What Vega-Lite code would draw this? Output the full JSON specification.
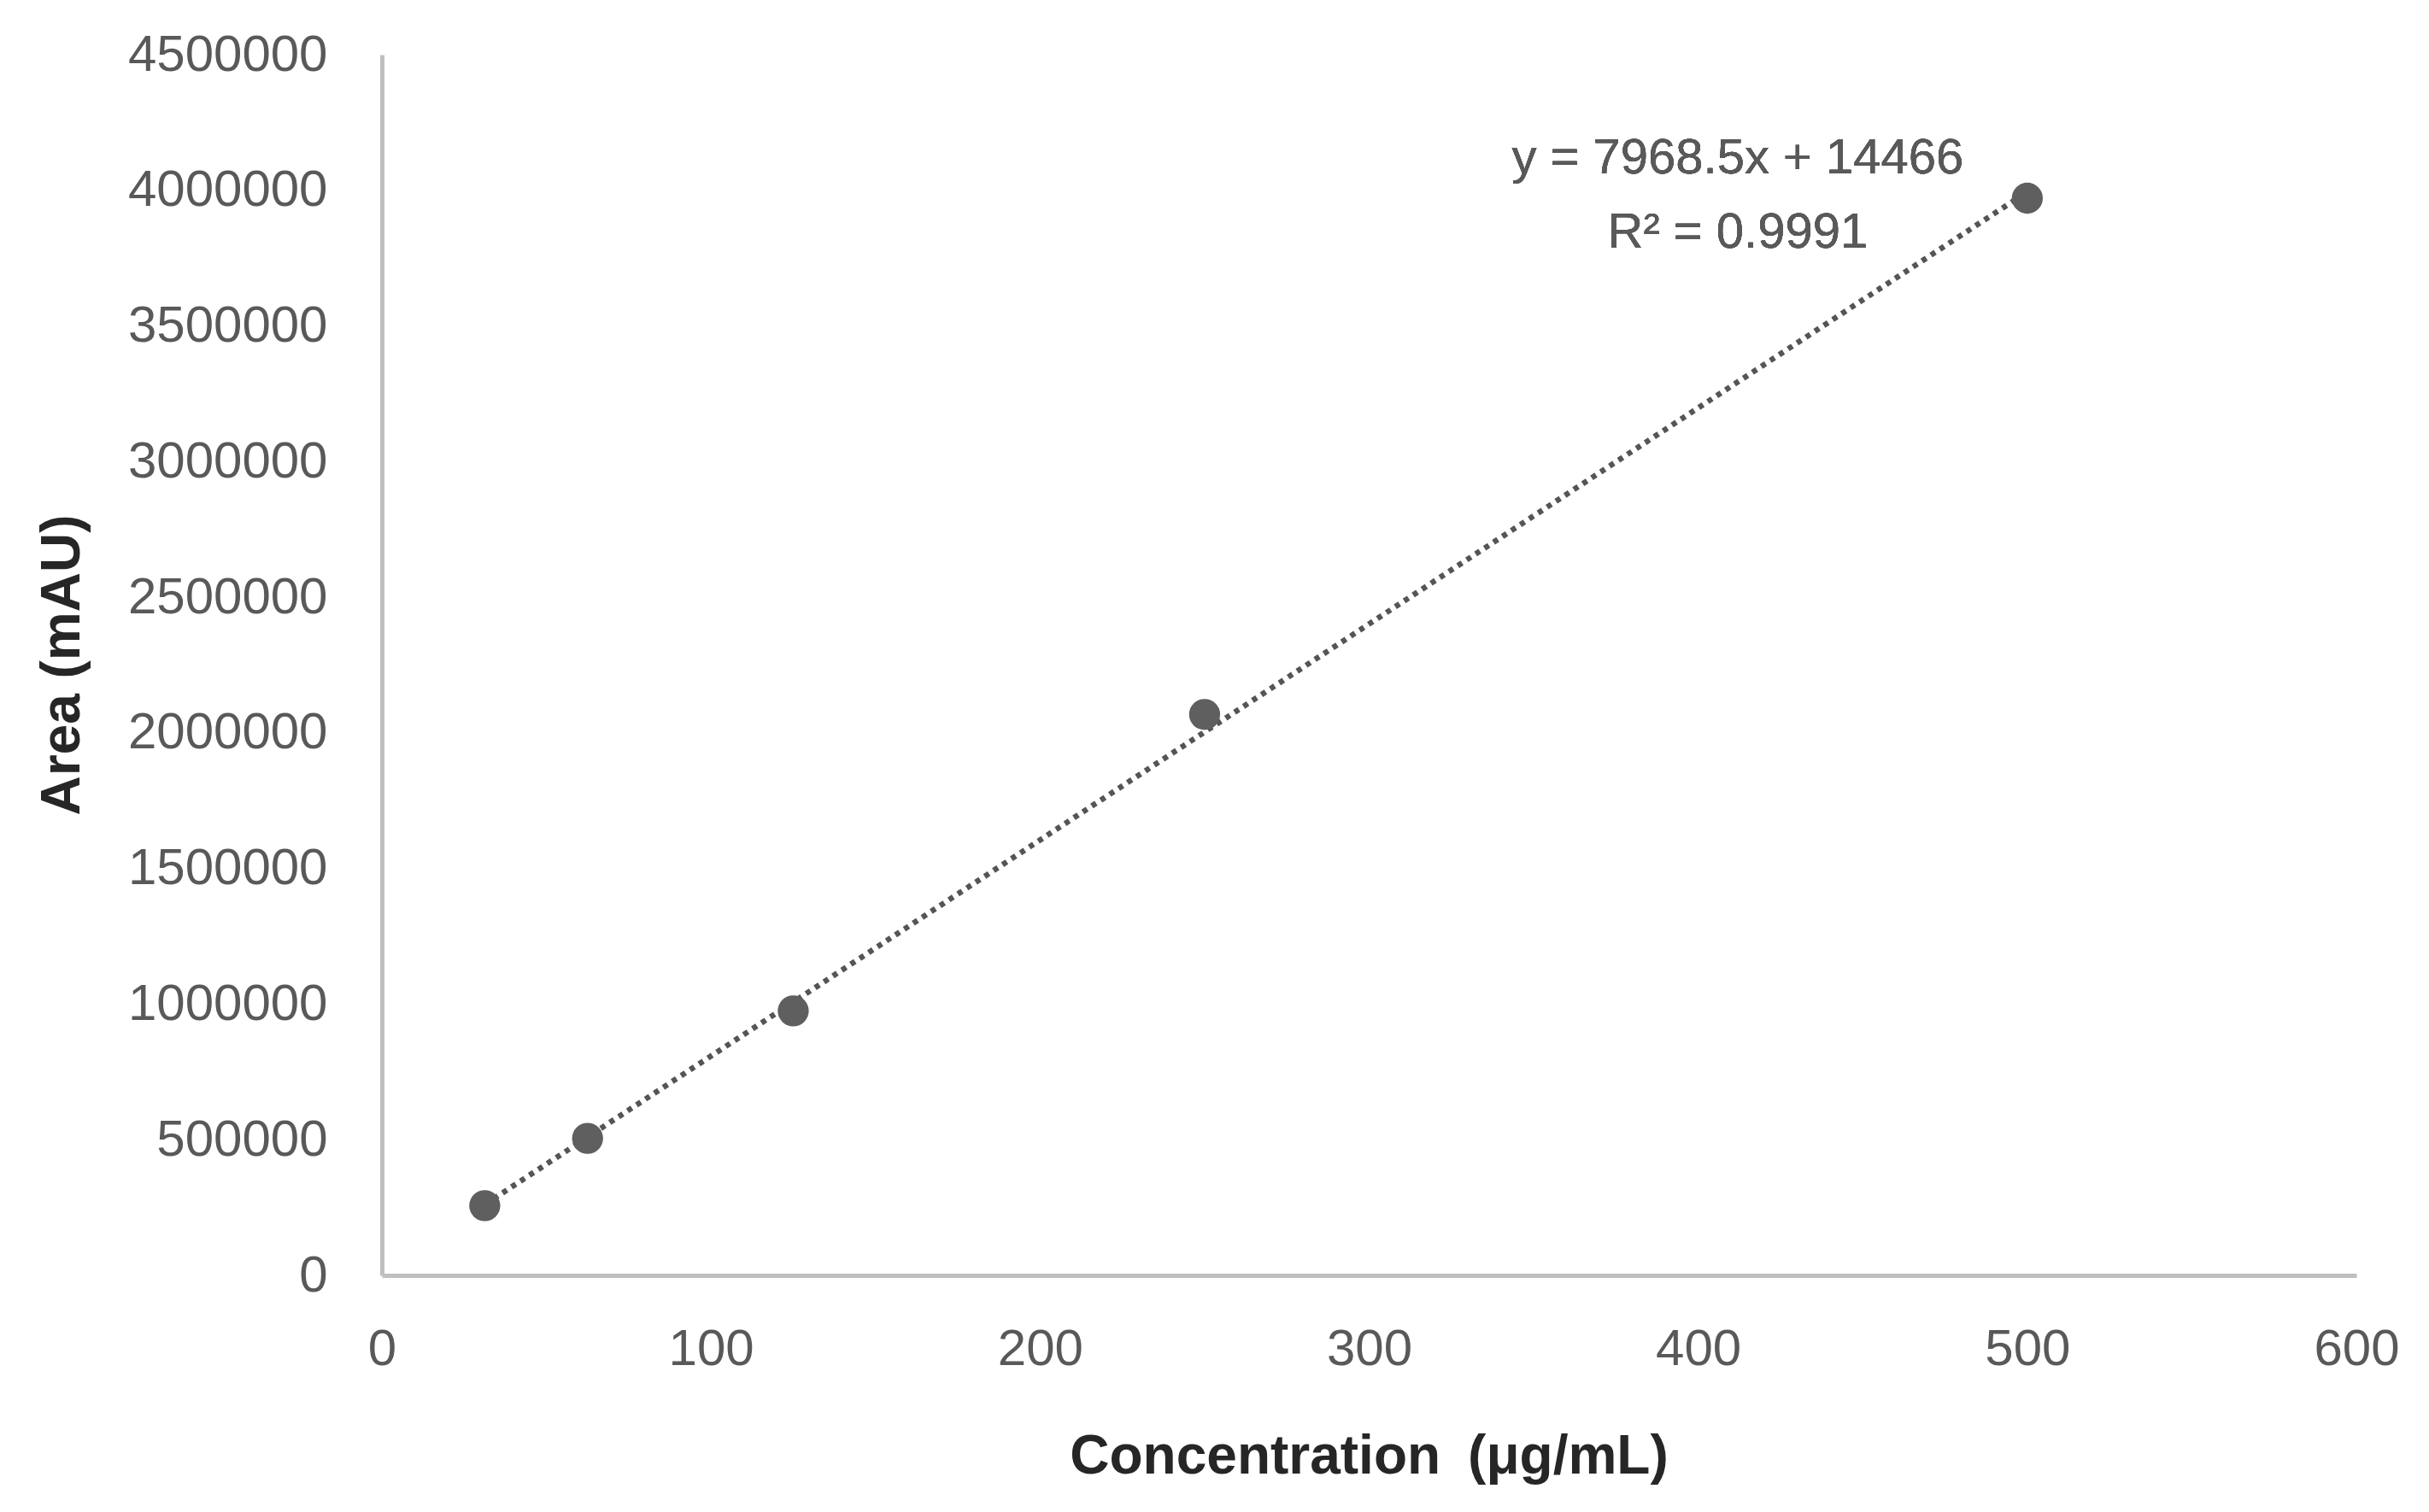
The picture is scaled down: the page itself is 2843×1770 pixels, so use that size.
{
  "$schema": "https://vega.github.io/schema/vega-lite/v6.json",
  "description": "Calibration curve: peak area against concentration, with linear trendline.",
  "width": 2311,
  "height": 1429,
  "autosize": "none",
  "padding": {"left": 447, "top": 64, "right": 85, "bottom": 277},
  "background": "white",
  "config": {
    "view": {"stroke": null},
    "font": "Liberation Sans",
    "axis": {
      "domainColor": "#bfbfbf",
      "domainWidth": 5,
      "ticks": false,
      "grid": false,
      "labelFont": "Liberation Sans",
      "labelFontSize": 60,
      "labelColor": "#595959",
      "labelLimit": 0,
      "titleFont": "Liberation Sans",
      "titleFontSize": 64,
      "titleFontWeight": "bold",
      "titleColor": "#262626"
    }
  },
  "data": {
    "values": [
      {"concentration": 31.25, "area": 257000},
      {"concentration": 62.5, "area": 505000},
      {"concentration": 125, "area": 975000},
      {"concentration": 250, "area": 2068000},
      {"concentration": 500, "area": 3971000}
    ]
  },
  "encoding": {
    "x": {
      "field": "concentration",
      "type": "quantitative",
      "scale": {"domain": [0, 600], "nice": false, "zero": true},
      "axis": {
        "title": "Concentration\u2002(μg/mL)",
        "values": [0, 100, 200, 300, 400, 500, 600],
        "labelPadding": 57,
        "labelFlush": false,
        "titleX": 1155,
        "titleY": 212,
        "titleAlign": "center",
        "titleBaseline": "middle"
      }
    },
    "y": {
      "field": "area",
      "type": "quantitative",
      "scale": {"domain": [0, 4500000], "nice": false},
      "axis": {
        "title": "Area (mAU)",
        "values": [0, 500000, 1000000, 1500000, 2000000, 2500000, 3000000, 3500000, 4000000, 4500000],
        "format": "d",
        "labelPadding": 64,
        "labelFlush": false,
        "titleX": -374,
        "titleY": 714,
        "titleAlign": "center",
        "titleBaseline": "middle",
        "titleAngle": -90
      }
    }
  },
  "layer": [
    {
      "transform": [{"regression": "area", "on": "concentration"}],
      "mark": {"type": "line", "color": "#555555", "strokeWidth": 6.5, "strokeDash": [6, 6.5]}
    },
    {
      "mark": {"type": "circle", "color": "#5f5f5f", "opacity": 1, "size": 1320}
    },
    {
      "mark": {"type": "text", "fontSize": 58, "color": "#595959", "align": "center", "baseline": "middle"},
      "encoding": {
        "x": {"datum": 412},
        "y": {"datum": 4116000},
        "text": {"value": "y = 7968.5x + 14466"}
      }
    },
    {
      "mark": {"type": "text", "fontSize": 58, "color": "#595959", "align": "center", "baseline": "middle"},
      "encoding": {
        "x": {"datum": 412},
        "y": {"datum": 3842000},
        "text": {"value": "R² = 0.9991"}
      }
    }
  ]
}
